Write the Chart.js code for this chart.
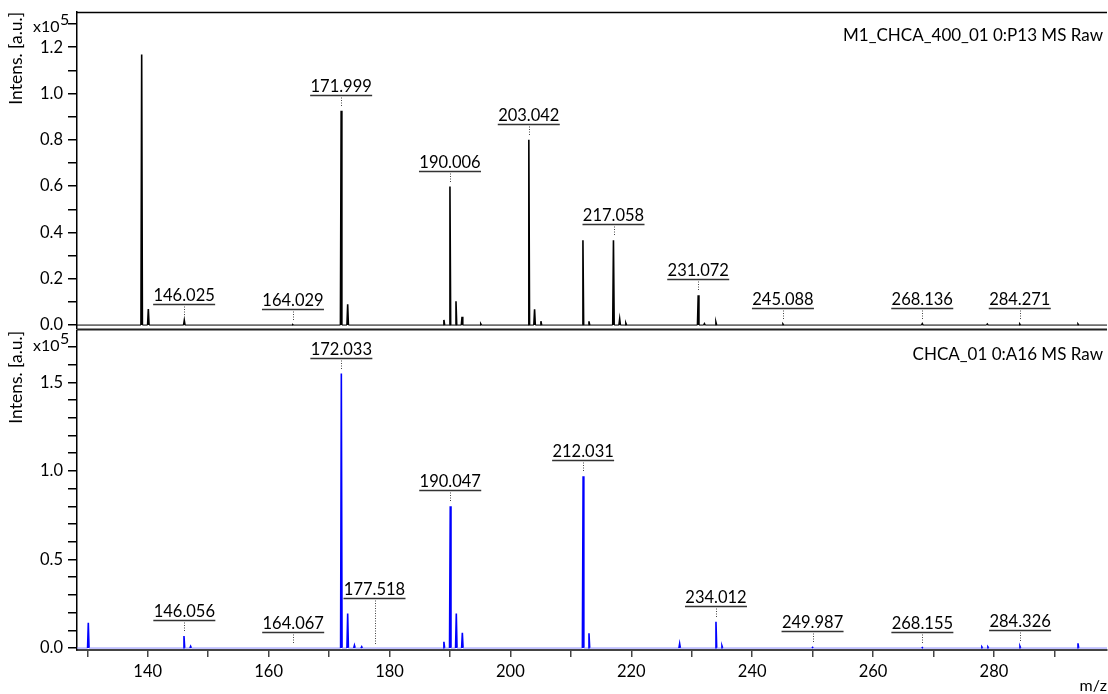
<!DOCTYPE html>
<html><head><meta charset="utf-8">
<script src="https://cdn.jsdelivr.net/npm/chart.js@4.4.1/dist/chart.umd.min.js"></script>
<style>
html,body{margin:0;padding:0;background:#fff;width:1108px;height:694px;overflow:hidden;position:relative}
canvas{position:absolute;left:0}
#c1{top:-20px}
#c2{top:300px}
</style></head><body>
<canvas id="c1" width="1108" height="370"></canvas>
<canvas id="c2" width="1108" height="394"></canvas>
<script>
// ---------- data ----------
const xTickValues = [130,140,150,160,170,180,190,200,210,220,230,240,250,260,270,280,290];
const xTickLabels = ['','140','','160','','180','','200','','220','','240','','260','','280',''];

const topYTickValues = [0,0.1,0.2,0.3,0.4,0.5,0.6,0.7,0.8,0.9,1.0,1.1,1.2,1.3];
const topYTickLabels = ['0.0','','0.2','','0.4','','0.6','','0.8','','1.0','','1.2',''];
const botYTickValues = [0,0.1,0.2,0.3,0.4,0.5,0.6,0.7,0.8,0.9,1.0,1.1,1.2,1.3,1.4,1.5,1.6,1.7];
const botYTickLabels = ['0.0','','','','','0.5','','','','','1.0','','','','','1.5','',''];

const topTitle = 'M1_CHCA_400_01 0:P13 MS Raw';
const botTitle = 'CHCA_01 0:A16 MS Raw';

// peaks, intensity in units of 1e5
const topMz        = [139.0,140.1,146.05,164.0,172.0,173.08,189.0,190.0,191.0,192.0,195.1,203.05,204.0,205.05,212.0,213.0,217.05,218.08,219.1,231.07,232.1,234.0,245.09,268.14,278.9,284.27,293.9];
const topIntensity = [1.168,0.069,0.020,0.002,0.925,0.090,0.022,0.598,0.103,0.036,0.005,0.800,0.068,0.017,0.366,0.016,0.366,0.026,0.008,0.129,0.006,0.012,0.004,0.006,0.004,0.004,0.004];

const botMz        = [130.17,146.0,147.1,172.03,173.08,174.2,175.4,189.0,190.05,191.05,192.05,212.03,213.0,228.0,234.01,235.0,250.0,268.15,278.0,279.0,284.3,293.9];
const botIntensity = [0.143,0.068,0.010,1.550,0.195,0.015,0.008,0.035,0.800,0.195,0.086,0.970,0.083,0.025,0.148,0.012,0.004,0.003,0.006,0.006,0.010,0.027];

const topLabels = [146.025,164.029,171.999,190.006,203.042,217.058,231.072,245.088,268.136,284.271];
const botLabels = [146.056,164.067,172.033,177.518,190.047,212.031,234.012,249.987,268.155,284.326];

// ---------- helpers ----------
const X_MIN = 128.3, X_MAX = 298.7, HALF = 0.12;
function spectrum(mz, inten){
  const pts = [{x:X_MIN,y:0}];
  mz.forEach((m,i)=>{ pts.push({x:m-HALF,y:0},{x:m,y:inten[i]},{x:m+HALF,y:0}); });
  pts.push({x:X_MAX,y:0});
  return pts;
}
Chart.defaults.font.family = 'Lato';
Chart.defaults.color = '#000';

function annotPlugin(title, labels, mz, inten, isTop){
  return {
    id:'annot',
    afterDraw(chart){
      const ctx = chart.ctx, ca = chart.chartArea, xs = chart.scales.x, ys = chart.scales.y;
      ctx.save();
      ctx.strokeStyle = '#000';
      if (isTop){
        ctx.lineWidth = 1.5;
        ctx.beginPath(); ctx.moveTo(ca.left, ca.top+0.5); ctx.lineTo(ca.right, ca.top+0.5); ctx.stroke();
        ctx.strokeStyle = '#222'; ctx.lineWidth = 2;
        ctx.beginPath(); ctx.moveTo(ca.left, ca.bottom+0.5); ctx.lineTo(ca.right, ca.bottom+0.5); ctx.stroke();
      }
      // sample title
      ctx.fillStyle = '#000';
      ctx.font = '17px Lato';
      ctx.textAlign = 'right'; ctx.textBaseline = 'alphabetic';
      ctx.fillText(title, ca.right-4, ca.top+29);
      // exponent
      ctx.font = '16px Lato';
      ctx.fillText('x10', ca.left-17.5, ca.top+20);
      ctx.textAlign = 'left';
      ctx.fillText('5', ca.left-17, ca.top+13);
      if (!isTop){
        ctx.font = '16px Lato'; ctx.textAlign = 'right';
        ctx.fillText('m/z', ca.right, ca.bottom+41);
      }
      // peak labels
      const y0 = ys.getPixelForValue(0);
      labels.forEach(lab=>{
        const lx = xs.getPixelForValue(lab);
        let top = y0, own = y0;
        mz.forEach((m,i)=>{
          const px = xs.getPixelForValue(m), py = ys.getPixelForValue(inten[i]);
          if (Math.abs(px-lx) <= 31) top = Math.min(top, py);
          if (Math.abs(m-lab) < 0.3) own = Math.min(own, py);
        });
        const uy = Math.round(top-16)+0.5;
        ctx.setLineDash([]);
        ctx.strokeStyle = '#333'; ctx.lineWidth = 1.5;
        ctx.beginPath(); ctx.moveTo(lx-31, uy); ctx.lineTo(lx+31, uy); ctx.stroke();
        ctx.font = '16.5px Lato'; ctx.textAlign = 'center'; ctx.fillStyle = '#000';
        ctx.fillText(lab.toFixed(3), lx, uy-4);
        const yEnd = Math.max(uy+4, own-4);
        ctx.setLineDash([1,1.5]); ctx.strokeStyle = '#444'; ctx.lineWidth = 1;
        ctx.beginPath(); ctx.moveTo(Math.round(lx)+0.5, uy+2); ctx.lineTo(Math.round(lx)+0.5, yEnd); ctx.stroke();
      });
      ctx.restore();
    }
  };
}

function makeChart(id, mz, inten, color, baseColor, yMin, yMax, yVals, yLabels, padding, isTop, title, labels){
  const xScale = {
    type:'linear', min:X_MIN, max:X_MAX
  };
  if (isTop){
    xScale.display = false;
  } else {
    Object.assign(xScale, {
      display:true,
      afterBuildTicks: s=>{ s.ticks = xTickValues.map(v=>({value:v})); },
      afterFit: s=>{ s.height = 44; },
      ticks:{ autoSkip:false, maxRotation:0, padding:5, color:'#000', font:{family:'Lato',size:16.5},
              callback:(v,i)=>xTickLabels[i] },
      grid:{ drawOnChartArea:false, drawTicks:true, tickLength:7, color:'#444', lineWidth:1.5 },
      border:{ display:true, color:'#444', width:2 }
    });
  }
  return new Chart(document.getElementById(id), {
    type:'line',
    data:{ datasets:[{
      data: spectrum(mz, inten),
      borderColor: color, borderWidth: 1.6, pointRadius: 0, tension: 0, fill: false,
      segment:{
        borderColor: c => (c.p0.parsed.y===0 && c.p1.parsed.y===0) ? baseColor : color,
        borderWidth: c => (c.p0.parsed.y===0 && c.p1.parsed.y===0) ? 1 : 1.6
      }
    }]},
    options:{
      responsive:false, animation:false, devicePixelRatio:1,
      layout:{ padding: padding },
      plugins:{ legend:{display:false}, tooltip:{enabled:false} },
      scales:{
        x: xScale,
        y:{
          type:'linear', min:yMin, max:yMax,
          afterBuildTicks: s=>{ s.ticks = yVals.map(v=>({value:v})); },
          afterFit: s=>{ s.width = 77; },
          ticks:{ autoSkip:false, padding:5, color:'#000', font:{family:'Lato',size:16.5},
                  callback:(v,i)=>yLabels[i] },
          grid:{ drawOnChartArea:false, drawTicks:true, tickLength:9, color:'#000', lineWidth:1.5 },
          border:{ display:true, color:'#000', width:1.5 },
          title:{ display:true, text:'Intens. [a.u.]', align:'end', color:'#000',
                  font:{family:'Lato', size:17.5}, padding:{top:6, bottom:0} }
        }
      }
    },
    plugins:[ annotPlugin(title, labels, mz, inten, isTop) ]
  });
}

makeChart('c1', topMz, topIntensity, '#000000', '#000000', -0.017, 1.352,
  topYTickValues, topYTickLabels, {top:32,bottom:21,left:0,right:1}, true, topTitle, topLabels);
makeChart('c2', botMz, botIntensity, '#0000ff', '#8c8cff', -0.011, 1.79,
  botYTickValues, botYTickLabels, {top:31,bottom:0,left:0,right:1}, false, botTitle, botLabels);
</script>
</body></html>
